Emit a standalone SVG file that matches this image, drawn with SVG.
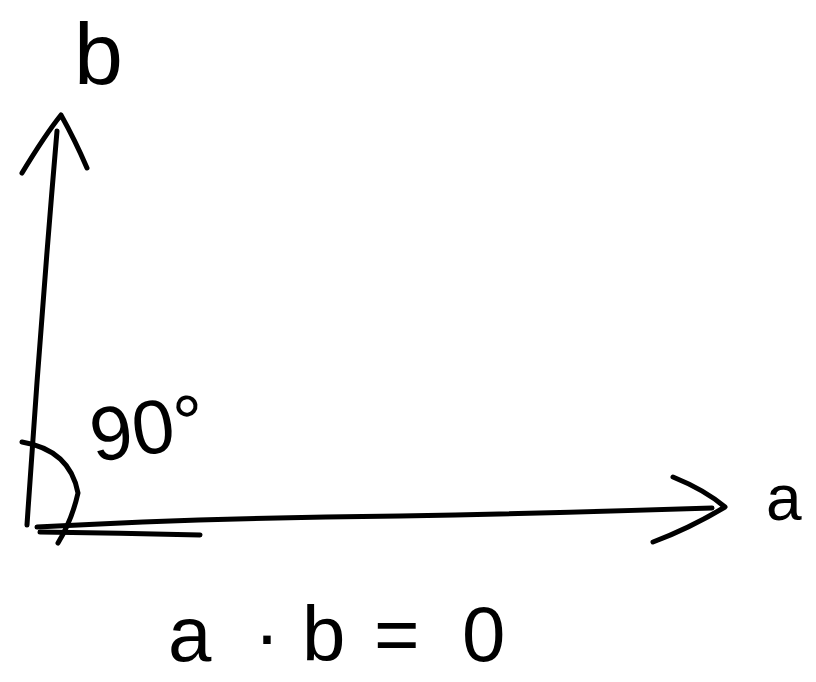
<svg xmlns="http://www.w3.org/2000/svg" width="816" height="682" viewBox="0 0 816 682">
<style>
.s{fill:none;stroke:#000;stroke-width:5;stroke-linecap:round;stroke-linejoin:round}
.t{font-family:"Liberation Sans","DejaVu Sans",sans-serif;fill:#000}
</style>
<rect width="816" height="682" fill="#fff"/>
<g id="axis-b">
<path class="s" d="M27,525 Q40,330 57,131"/>
<path class="s" d="M22,173 Q45,135 61,115 Q75,140 87,168"/>
<text class="t" x="74" y="84" font-size="88">b</text>
</g>
<g id="axis-a">
<path class="s" d="M37,527 Q200,518 400,516 Q560,513 712,508"/>
<path class="s" d="M40,532 Q120,533 200,535"/>
<path class="s" d="M673,477 Q705,490 725,507 Q690,528 653,542"/>
<text class="t" x="766" y="520" font-size="64">a</text>
</g>
<g id="angle">
<path class="s" d="M22,442 Q70,450 78,493 Q72,520 58,543"/>
<text class="t" x="94" y="462" font-size="76" transform="rotate(-8 94 462)">90°</text>
</g>
<g id="equation">
<text class="t" font-size="78" y="661"><tspan x="168">a</tspan><tspan x="254">·</tspan><tspan x="302">b</tspan><tspan x="374">=</tspan><tspan x="462">0</tspan></text>
</g>
</svg>
